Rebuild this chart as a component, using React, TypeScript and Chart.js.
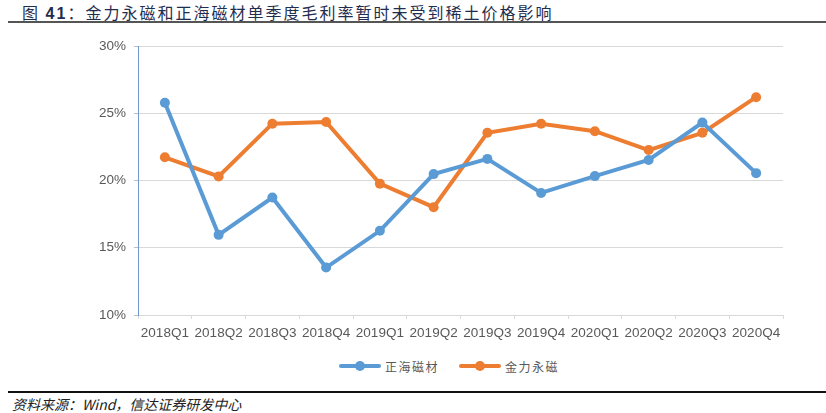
import React, { useEffect, useRef } from 'react';
import { Chart, registerables } from 'chart.js';

Chart.register(...registerables);

const quarters = [
  '2018Q1', '2018Q2', '2018Q3', '2018Q4',
  '2019Q1', '2019Q2', '2019Q3', '2019Q4',
  '2020Q1', '2020Q2', '2020Q3', '2020Q4',
];
// 正海磁材 gross margin, %
const zhenghai = [25.78, 15.96, 18.74, 13.53, 16.26, 20.48, 21.61, 19.08, 20.33, 21.53, 24.31, 20.55];
// 金力永磁 gross margin, %
const jinli = [21.73, 20.31, 24.23, 24.36, 19.77, 18.02, 23.55, 24.23, 23.67, 22.27, 23.55, 26.2];
const seriesNames = ['正海磁材', '金力永磁'];
const seriesColors = ['#5b9bd5', '#ed7d31'];

const TITLE = '图 41：金力永磁和正海磁材单季度毛利率暂时未受到稀土价格影响';
const SOURCE = '资料来源：Wind，信达证券研发中心';

const tickFont = { family: '"Liberation Sans", Arial, sans-serif', size: 13.5 };

const MarginChart: React.FC = () => {
  const canvasRef = useRef<HTMLCanvasElement>(null);
  const chartRef = useRef<Chart | null>(null);

  useEffect(() => {
    if (!canvasRef.current) return;
    const ctx = canvasRef.current.getContext('2d');
    if (!ctx) return;

    const series = [zhenghai, jinli];

    chartRef.current = new Chart(ctx, {
      type: 'line',
      data: {
        labels: quarters,
        datasets: series.map((values, i) => ({
          label: seriesNames[i],
          data: values,
          borderColor: seriesColors[i],
          backgroundColor: seriesColors[i],
          borderWidth: 4,
          pointRadius: 5,
          pointBorderWidth: 0,
          pointBackgroundColor: seriesColors[i],
          tension: 0,
        })),
      },
      options: {
        animation: false,
        responsive: false,
        maintainAspectRatio: false,
        layout: { padding: { top: 14, right: 43, left: 0, bottom: 0 } },
        plugins: {
          legend: { display: false },
          title: { display: false },
          tooltip: { enabled: false },
        },
        scales: {
          x: {
            offset: true,
            grid: {
              offset: true,
              drawOnChartArea: false,
              tickLength: 4,
              tickColor: '#d9d9d9',
            },
            border: { color: '#d9d9d9' },
            ticks: {
              color: '#595959',
              font: tickFont,
              padding: 6,
              maxRotation: 0,
              autoSkip: false,
            },
            afterFit: (scale) => {
              scale.height = 35;
            },
          },
          y: {
            min: 10,
            max: 30,
            grid: {
              color: '#d9d9d9',
              tickLength: 4,
              tickColor: '#bfbfbf',
            },
            border: { color: '#6f98cc' },
            ticks: {
              stepSize: 5,
              color: '#595959',
              font: tickFont,
              padding: 8,
              callback: (v) => `${v}%`,
            },
            afterFit: (scale) => {
              scale.width = 138;
            },
          },
        },
      },
    });

    return () => {
      if (chartRef.current) {
        chartRef.current.destroy();
        chartRef.current = null;
      }
    };
  }, []);

  return (
    <canvas
      ref={canvasRef}
      width={826}
      height={320}
      style={{ position: 'absolute', left: 0, top: 30, width: 826, height: 320 }}
    />
  );
};

const LegendItem: React.FC<{ name: string; color: string }> = ({ name, color }) => (
  <div style={{ display: 'flex', alignItems: 'center', marginRight: 20 }}>
    <div style={{ position: 'relative', width: 42, height: 10 }}>
      <div style={{ position: 'absolute', left: 0, top: 3, width: 42, height: 4, borderRadius: 2, background: color }} />
      <div style={{ position: 'absolute', left: 16, top: 0, width: 10, height: 10, borderRadius: 5, background: color }} />
    </div>
    <span style={{ marginLeft: 4, fontSize: 12, letterSpacing: 1.5, color: '#595959' }}>{name}</span>
  </div>
);

export default function App() {
  return (
    <div
      style={{
        position: 'absolute',
        left: 0,
        top: 0,
        width: 826,
        height: 413,
        background: '#fff',
        overflow: 'hidden',
        fontFamily: '"Noto Sans CJK SC", "Liberation Sans", sans-serif',
      }}
    >
      <div
        style={{
          position: 'absolute',
          left: 22,
          top: 3,
          fontSize: 16,
          lineHeight: '18px',
          letterSpacing: 2,
          color: '#1f2d4f',
          whiteSpace: 'nowrap',
        }}
      >
        {TITLE.split('41').map((part, i) =>
          i === 0 ? (
            <span key={i}>{part}</span>
          ) : (
            <React.Fragment key={i}>
              <b style={{ fontFamily: '"Liberation Sans", Arial, sans-serif' }}>41</b>
              <span>{part}</span>
            </React.Fragment>
          )
        )}
      </div>
      <div style={{ position: 'absolute', left: 8, top: 21, width: 818, height: 2, background: '#555' }} />

      <MarginChart />

      <div style={{ position: 'absolute', left: 339, top: 356, display: 'flex', height: 20, alignItems: 'center' }}>
        {seriesNames.map((n, i) => (
          <LegendItem key={n} name={n} color={seriesColors[i]} />
        ))}
      </div>

      <div style={{ position: 'absolute', left: 8, top: 391, width: 818, height: 1.5, background: '#111' }} />
      <div
        style={{
          position: 'absolute',
          left: 12,
          top: 395,
          fontSize: 14,
          lineHeight: '18px',
          fontStyle: 'italic',
          color: '#222',
          whiteSpace: 'nowrap',
        }}
      >
        {SOURCE}
      </div>
    </div>
  );
}
